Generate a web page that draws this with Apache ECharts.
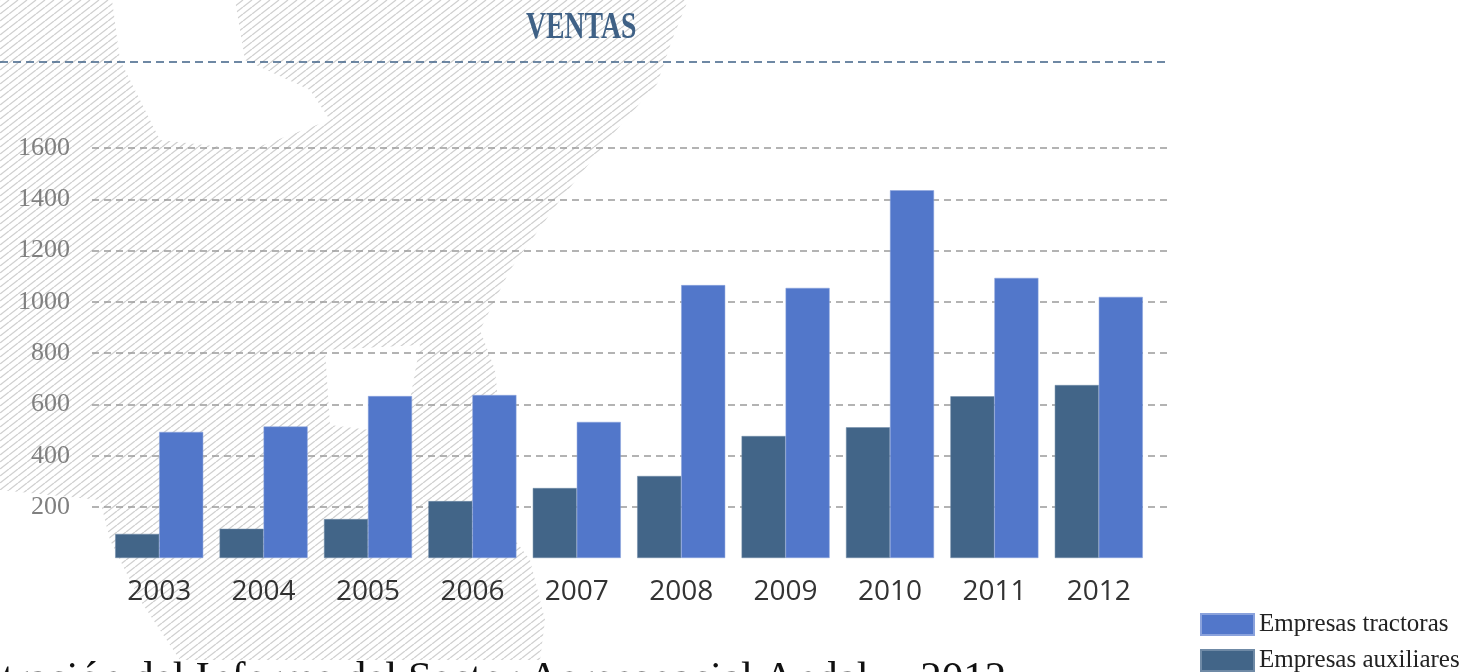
<!DOCTYPE html>
<html>
<head>
<meta charset="utf-8">
<title>Ventas</title>
<script src="https://cdn.jsdelivr.net/npm/echarts@6/dist/echarts.min.js"></script>
<style>
  html, body { margin: 0; padding: 0; background: #ffffff; }
  #main { width: 1480px; height: 672px; }
</style>
</head>
<body>
<div id="main"></div>
<script>
// datos del gráfico
var years = ["2003", "2004", "2005", "2006", "2007", "2008", "2009", "2010", "2011", "2012"];
var tractoras = [492, 513, 632, 636, 531, 1065, 1054, 1435, 1093, 1019];
var auxiliares = [94, 114, 152, 222, 273, 320, 476, 510, 631, 675];
var seriesNames = ["Empresas tractoras", "Empresas auxiliares"];

// patrón rayado del fondo
var hatch = document.createElement("canvas");
hatch.width = 9;
hatch.height = 7;
var ctx = hatch.getContext("2d");
ctx.strokeStyle = "#d0d0d0";
ctx.lineWidth = 1.3;
ctx.beginPath();
ctx.moveTo(0, 7); ctx.lineTo(9, 0);
ctx.moveTo(-9, 7); ctx.lineTo(0, 0);
ctx.moveTo(9, 7); ctx.lineTo(18, 0);
ctx.stroke();

var myChart = echarts.init(document.getElementById("main"));

// leyenda: una caja por serie, apiladas
function legendItem(name, top) {
  return {
    left: 1200,
    top: top,
    padding: 0,
    itemWidth: 53,
    itemHeight: 21,
    icon: "rect",
    data: [name],
    textStyle: { fontFamily: "Liberation Serif", fontSize: 25, color: "#222222" }
  };
}

var option = {
  animation: false,
  backgroundColor: "#ffffff",
  textStyle: { fontFamily: "Liberation Serif" },
  graphic: [
    {
      type: "polygon",
      z: -10,
      silent: true,
      shape: {
        points: [[0, 0], [688, 0], [672, 40], [657, 84], [612, 135], [560, 200], [510, 270],
          [480, 330], [495, 370], [500, 420], [480, 470], [500, 520], [530, 560], [545, 620],
          [540, 660], [180, 660], [140, 600], [110, 540], [100, 500], [0, 490]]
      },
      style: { fill: { image: hatch, repeat: "repeat" } }
    },
    {
      type: "polygon",
      z: -9,
      silent: true,
      shape: {
        points: [[112, 0], [235, 0], [245, 60], [310, 90], [330, 120], [250, 150], [160, 140], [120, 60]]
      },
      style: { fill: "#ffffff" }
    },
    {
      type: "polygon",
      z: -9,
      silent: true,
      shape: {
        points: [[325, 350], [420, 345], [410, 400], [370, 430], [330, 425]]
      },
      style: { fill: "#ffffff" }
    },
    {
      type: "text",
      left: 526,
      top: 9,
      scaleX: 0.73,
      style: {
        text: "VENTAS",
        fill: "#3f6186",
        font: "bold 38px 'Liberation Serif'"
      }
    },
    {
      type: "line",
      shape: { x1: 0, y1: 62, x2: 1166, y2: 62 },
      style: { stroke: "#3f6186", lineWidth: 1.5, lineDash: [8, 5] }
    },
    {
      type: "text",
      left: 2,
      top: 658,
      style: {
        text: "tración del Informe del Sector Aeroespacial Andaluz 2012",
        fill: "#111111",
        font: "43px 'Liberation Serif'"
      }
    }
  ],
  legend: [
    legendItem(seriesNames[0], 612),
    legendItem(seriesNames[1], 648)
  ],
  grid: [
    { left: 107, right: 329, top: 148, bottom: 114 },
    { left: 92, right: 313, top: 148, bottom: 165 }
  ],
  xAxis: [
    {
      type: "category",
      gridIndex: 0,
      data: years,
      axisLine: { show: false },
      axisTick: { show: false },
      axisLabel: { margin: 20, fontFamily: "Open Sans", fontSize: 28, color: "#333333" }
    },
    {
      type: "category",
      gridIndex: 1,
      data: years,
      show: false
    }
  ],
  yAxis: [
    {
      type: "value",
      gridIndex: 0,
      min: 0,
      max: 1600,
      interval: 200,
      axisLine: { show: false },
      axisTick: { show: false },
      axisLabel: { show: false },
      splitLine: { show: false }
    },
    {
      type: "value",
      gridIndex: 1,
      min: 200,
      max: 1600,
      interval: 200,
      axisLine: { show: false },
      axisTick: { show: false },
      axisLabel: {
        margin: 22,
        fontFamily: "Liberation Serif",
        fontSize: 26,
        color: "#808080",
        formatter: function (v) { return String(v); }
      },
      splitLine: { lineStyle: { color: "#9a9a9a", width: 1.5, type: [7, 5] } }
    }
  ],
  series: [
    {
      name: "Empresas auxiliares",
      type: "bar",
      xAxisIndex: 0,
      yAxisIndex: 0,
      barWidth: 44,
      barGap: "0%",
      data: auxiliares,
      itemStyle: { color: "#426588", borderColor: "#6f8aa6", borderWidth: 0.5 },
      z: 3
    },
    {
      name: "Empresas tractoras",
      type: "bar",
      xAxisIndex: 0,
      yAxisIndex: 0,
      barWidth: 44,
      barGap: "0%",
      data: tractoras,
      itemStyle: { color: "#5277ca", borderColor: "#8aa2dc", borderWidth: 0.5 },
      z: 3
    }
  ]
};

myChart.setOption(option);
</script>
</body>
</html>
